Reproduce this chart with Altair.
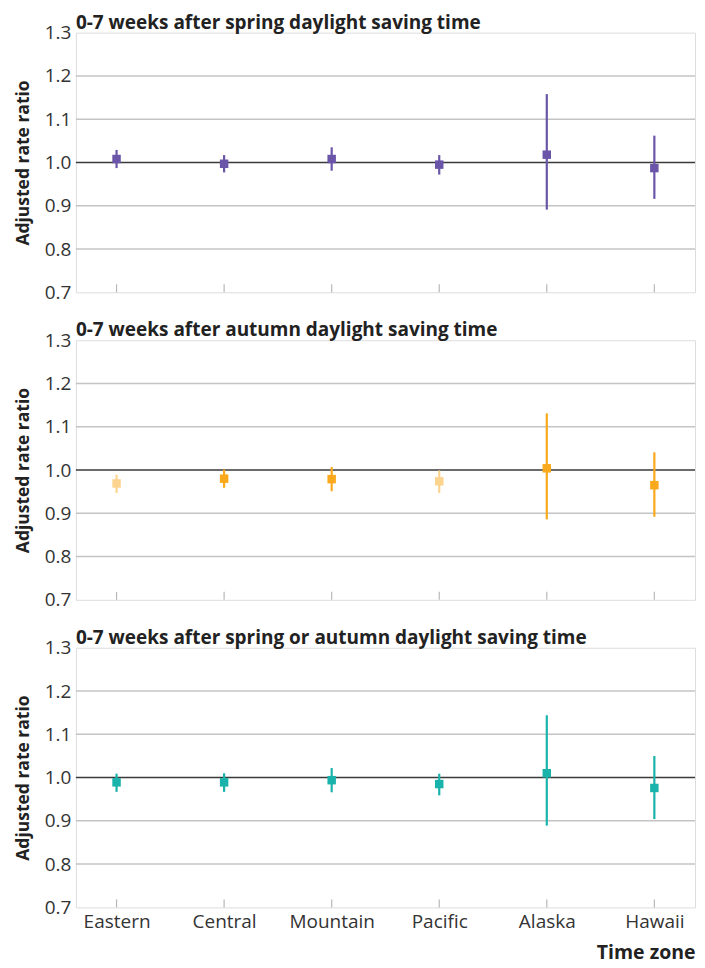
import altair as alt
import pandas as pd

zones = ["Eastern", "Central", "Mountain", "Pacific", "Alaska", "Hawaii"]

spring_est = [1.008, 0.997, 1.008, 0.995, 1.018, 0.987]
spring_lo = [0.987, 0.977, 0.981, 0.972, 0.891, 0.916]
spring_hi = [1.029, 1.017, 1.035, 1.017, 1.158, 1.062]

autumn_est = [0.969, 0.980, 0.979, 0.974, 1.004, 0.965]
autumn_lo = [0.947, 0.959, 0.951, 0.947, 0.886, 0.892]
autumn_hi = [0.989, 1.001, 1.007, 0.999, 1.131, 1.041]

both_est = [0.989, 0.989, 0.994, 0.985, 1.010, 0.976]
both_lo = [0.967, 0.967, 0.966, 0.959, 0.889, 0.904]
both_hi = [1.009, 1.010, 1.022, 1.009, 1.144, 1.050]

PURPLE = "#6a55a8"
ORANGE = "#f9a91b"
LIGHT_ORANGE = "#fdd48e"
TEAL = "#1ab3ab"

spring_colors = [PURPLE] * 6
autumn_colors = [LIGHT_ORANGE, ORANGE, ORANGE, LIGHT_ORANGE, ORANGE, ORANGE]
both_colors = [TEAL] * 6

titles = [
    "0-7 weeks after spring daylight saving time",
    "0-7 weeks after autumn daylight saving time",
    "0-7 weeks after spring or autumn daylight saving time",
]

grid_values = [0.8, 0.9, 1.1, 1.2]
y_ticks = [0.7, 0.8, 0.9, 1.0, 1.1, 1.2, 1.3]

FONT = "Open Sans"
W, H = 620, 260


def yenc(field):
    return alt.Y(
        field,
        type="quantitative",
        scale=alt.Scale(domain=[0.7, 1.3], nice=False, zero=False),
        axis=alt.Axis(
            values=y_ticks,
            format=".1f",
            title="Adjusted rate ratio",
            ticks=False,
            domain=False,
            grid=False,
            labelFontSize=19,
            labelColor="#333333",
            labelPadding=5,
            titleFontSize=17.5,
            titleFontWeight="bold",
            titleColor="#222222",
            titlePadding=12,
            labelFont=FONT,
            titleFont=FONT,
        ),
    )


def panel(est, lo, hi, colors, title, bottom):
    df = pd.DataFrame({"zone": zones, "est": est, "lo": lo, "hi": hi, "c": colors})
    if bottom:
        xaxis = alt.Axis(
            title="Time zone",
            titleAnchor="end",
            titleFontSize=19.5,
            titleFontWeight="bold",
            titleColor="#222222",
            titlePadding=12,
            labelFontSize=19,
            labelColor="#333333",
            labelPadding=5,
            labelAngle=0,
            ticks=False,
            domain=False,
            grid=False,
            labelFont=FONT,
            titleFont=FONT,
        )
    else:
        xaxis = None
    xenc = alt.X(
        "zone:N",
        sort=zones,
        scale=alt.Scale(type="point", padding=0.378),
        axis=xaxis,
    )
    base = alt.Chart(df)
    grid = alt.Chart(pd.DataFrame({"g": grid_values})).mark_rule(
        color="#c4c4c4", strokeWidth=1.5
    ).encode(y=yenc("g"))
    ref = alt.Chart(pd.DataFrame({"r": [1.0]})).mark_rule(
        color="#3a3a3a", strokeWidth=1.5
    ).encode(y=yenc("r"))
    ticks = base.mark_rule(color="#b8b8b8", strokeWidth=1.2).encode(
        x=xenc, y=alt.value(H), y2=alt.value(H - 8)
    )
    bars = base.mark_rule(strokeWidth=2.2).encode(
        x=xenc, y=yenc("lo"), y2="hi:Q", color=alt.Color("c:N", scale=None)
    )
    pts = base.mark_square(size=72, opacity=1).encode(
        x=xenc, y=yenc("est"), color=alt.Color("c:N", scale=None)
    )
    return alt.layer(grid, ref, ticks, bars, pts).properties(
        width=W,
        height=H,
        title=alt.TitleParams(
            title,
            anchor="start",
            frame="group",
            fontSize=19,
            fontWeight="bold",
            color="#222222",
            offset=-9,
            font=FONT,
        ),
    )


chart = alt.vconcat(
    panel(spring_est, spring_lo, spring_hi, spring_colors, titles[0], False),
    panel(autumn_est, autumn_lo, autumn_hi, autumn_colors, titles[1], False),
    panel(both_est, both_lo, both_hi, both_colors, titles[2], True),
    spacing=17,
).properties(
    padding={"left": 5, "top": 4, "right": 0, "bottom": 6}
).configure_view(
    stroke="#b8b8b8", strokeWidth=1.5, cornerRadius=10
).configure(font=FONT)

chart.save("out.html", embed_options={"renderer": "svg", "actions": False})
